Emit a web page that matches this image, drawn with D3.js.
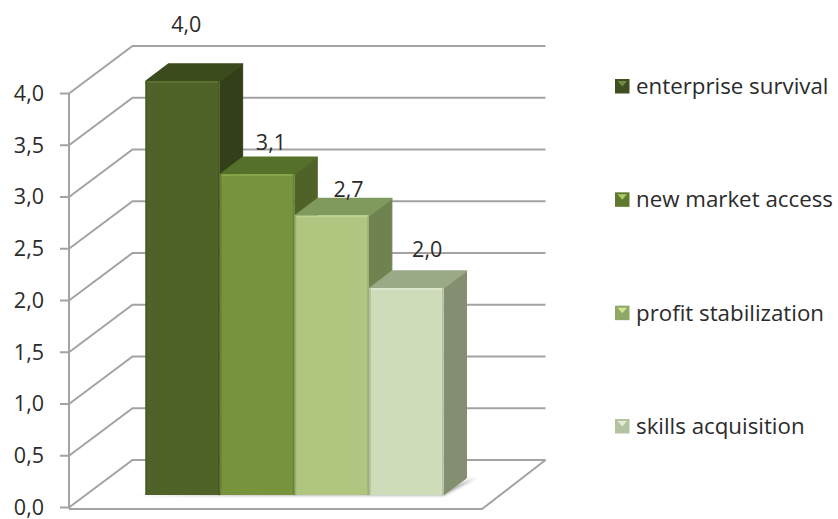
<!DOCTYPE html>
<html>
<head>
<meta charset="utf-8">
<style>
html,body{margin:0;padding:0;background:#fff;}
svg{display:block;}
text{font-family:"Open Sans","Noto Sans",sans-serif;fill:#2b2b2b;}
</style>
<script src="https://cdn.jsdelivr.net/npm/d3@7"></script>
</head>
<body>
<svg id="chart" width="838" height="519"></svg>
<script>
// Chart content
const categories = ["enterprise survival", "new market access", "profit stabilization", "skills acquisition"];
const values = [4.0, 3.1, 2.7, 2.0];
const tickValues = [0, 0.5, 1, 1.5, 2, 2.5, 3, 3.5, 4];

// Face colours per bar
const frontColors = ["#4f6228", "#77933c", "#afc580", "#cfdcba"];
const topColors = ["#3c4b1e", "#55702a", "#7f9a5c", "#9aa986"];
const sideColors = ["#333f18", "#4f6228", "#6f8350", "#838f70"];
const edgeColors = ["#5d7232", "#88a548", "#bdd190", "#dde7cc"];
const markerColors = ["#3f4f20", "#5f7a30", "#8fa868", "#b4c2a0"];
const markerTopColors = ["#6f8a42", "#a8cc60", "#d0e690", "#e4ecd6"];

const comma = v => v.toFixed(1).replace(".", ",");
const svg = d3.select("#chart");

// Projection of the 3D box
const wallDX = 63.5, wallDY = -47.5;       // full depth of the plot box
const barDX = 23, barDY = -17;             // depth of a bar
const baseOffsetY = -12.5, unit = 103.5;   // bar plane sits inside the floor

const y = d3.scaleLinear().domain([0, 4]).range([507.5, 93.5]);
const yBar = d3.scaleLinear().domain([0, 4]).range([507.5 + baseOffsetY, 507.5 + baseOffsetY - 4 * unit]);
const x = d3.scaleBand().domain(categories).range([145.5, 444]).padding(0);
const xFront = 69, xFloorEnd = 482;
const gridColor = "#a3a3a3";

// Walls and floor
const grid = svg.append("g").attr("fill", "none").attr("stroke", gridColor).attr("stroke-width", 2);
tickValues.forEach(t => {
  const y0 = y(t);
  grid.append("path").attr("d", d3.line()([
    [xFront, y0],
    [xFront + wallDX, y0 + wallDY],
    [xFloorEnd + wallDX, y0 + wallDY]
  ]));
  grid.append("line")
    .attr("x1", xFront - 9).attr("x2", xFront)
    .attr("y1", y0).attr("y2", y0);
});
grid.append("line").attr("x1", xFront).attr("x2", xFront).attr("y1", y(4)).attr("y2", y(0) + 1);
grid.append("path").attr("d", d3.line()([
  [xFront, y(0) + 1.5],
  [xFloorEnd, y(0) + 1.5],
  [xFloorEnd + wallDX, y(0) + wallDY]
]));

// Value axis labels
svg.append("g").selectAll("text").data(tickValues).join("text")
  .attr("x", 44).attr("y", d => y(d) + 1.5)
  .attr("text-anchor", "end").attr("dominant-baseline", "middle")
  .style("font-size", "21.5px").text(comma);

// Soft shadow on the floor behind the bars
const defs = svg.append("defs");
defs.append("filter").attr("id", "soft").append("feGaussianBlur").attr("stdDeviation", 1.6);
const lastX = x(categories[3]) + x.bandwidth();
svg.append("path")
  .attr("d", d3.line()([
    [x(categories[0]) - 9, yBar(0) + 0.5],
    [lastX, yBar(0) + 0.5],
    [lastX + barDX + 9, yBar(0) + barDY],
    [lastX, yBar(0) - 6]
  ]))
  .attr("fill", "#a9a9a9").attr("filter", "url(#soft)");

// Bars, left to right so each one overlaps the side of its neighbour
const bars = svg.append("g").selectAll("g").data(categories).join("g");
bars.each(function (c, i) {
  const g = d3.select(this);
  const x0 = x(c), x1 = x0 + x.bandwidth() - 0.5;
  const yt = yBar(values[i]), yb = yBar(0);
  g.append("path").attr("fill", sideColors[i])
    .attr("stroke", sideColors[i]).attr("stroke-width", 1).attr("stroke-linejoin", "round")
    .attr("d", d3.line()([
      [x1, yt], [x1 + barDX, yt + barDY], [x1 + barDX, yb + barDY], [x1, yb]
    ]));
  g.append("path").attr("fill", topColors[i])
    .attr("stroke", topColors[i]).attr("stroke-width", 1.5).attr("stroke-linejoin", "round")
    .attr("d", d3.line()([
      [x0 + 0.5, yt], [x0 + barDX, yt + barDY], [x1 + barDX, yt + barDY], [x1, yt]
    ]));
  g.append("rect").attr("x", x0).attr("y", yt)
    .attr("width", x1 - x0).attr("height", yb - yt)
    .attr("fill", frontColors[i]);
  // bevelled top edge and darker side rims of the front face
  g.append("rect").attr("x", x0).attr("y", yt)
    .attr("width", x1 - x0).attr("height", 2)
    .attr("fill", edgeColors[i]);
  g.append("rect").attr("x", x0).attr("y", yt)
    .attr("width", 1.5).attr("height", yb - yt)
    .attr("fill", d3.color(frontColors[i]).darker(0.35));
  g.append("rect").attr("x", x1 - 1.5).attr("y", yt)
    .attr("width", 1.5).attr("height", yb - yt)
    .attr("fill", d3.color(frontColors[i]).darker(0.35));
});

// Value labels above the bars
const labelNudgeX = [-9, 1, 4, 8];
const labelNudgeY = [-38, -13, -7, -20];
svg.append("g").selectAll("text").data(categories).join("text")
  .attr("x", (c, i) => x(c) + x.bandwidth() / 2 + barDX / 2 + 1 + labelNudgeX[i])
  .attr("y", (c, i) => yBar(values[i]) + barDY + labelNudgeY[i])
  .attr("text-anchor", "middle").attr("dominant-baseline", "middle")
  .style("font-size", "21.5px")
  .text((c, i) => comma(values[i]));

// Legend
const legendY = d3.scalePoint().domain(categories).range([86, 426]);
const legend = svg.append("g").selectAll("g").data(categories).join("g")
  .attr("transform", c => `translate(615,${legendY(c)})`);
legend.append("rect").attr("x", 0).attr("y", -7).attr("width", 14.5).attr("height", 14.5)
  .attr("fill", (c, i) => markerColors[i]);
legend.append("path").attr("d", "M2.5,-5H12L7.25,0.5Z")
  .attr("fill", (c, i) => markerTopColors[i]);
legend.append("text").attr("x", 21).attr("y", 2)
  .attr("dominant-baseline", "middle")
  .style("font-size", "22.3px").text(c => c);
</script>
</body>
</html>
